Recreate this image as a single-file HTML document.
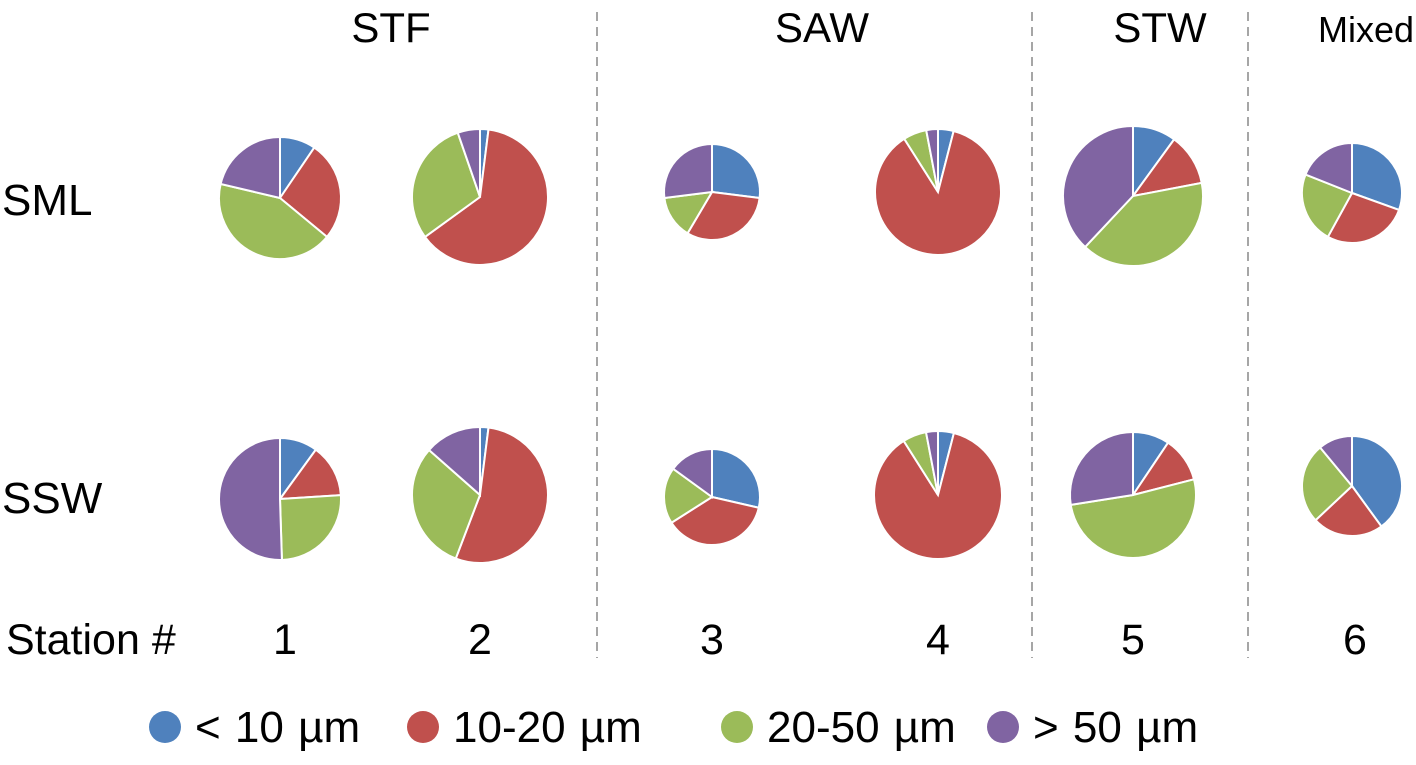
<!DOCTYPE html>
<html><head><meta charset="utf-8"><style>
body{margin:0;background:#fff;width:1416px;height:760px;overflow:hidden}
svg text{font-family:"Liberation Sans",Arial,sans-serif;fill:#000}
</style></head><body>
<svg id="chart" width="1416" height="760">
<g>
<text x="391" y="42" font-size="42" text-anchor="middle">STF</text>
<text x="822" y="42" font-size="42" text-anchor="middle">SAW</text>
<text x="1160" y="42" font-size="42" text-anchor="middle">STW</text>
<text x="1318" y="42" font-size="36">Mixed</text>
</g>
<text x="2" y="215" font-size="44">SML</text>
<text x="2" y="513" font-size="44">SSW</text>
<text x="6" y="654" font-size="43">Station #</text>
<g stroke="#a6a6a6" stroke-width="2" stroke-dasharray="9,6">
<line x1="597" y1="12" x2="597" y2="658"/>
<line x1="1032" y1="12" x2="1032" y2="658"/>
<line x1="1248" y1="12" x2="1248" y2="658"/>
</g>
<g id="pies"></g>
<g id="stations"></g>
<g style="word-spacing:2px">
<circle cx="165" cy="727" r="16" fill="#4F81BD"/>
<text x="195" y="742" font-size="44">&lt; 10 µm</text>
<circle cx="423" cy="727" r="16" fill="#C0504D"/>
<text x="453" y="742" font-size="44">10-20 µm</text>
<circle cx="737" cy="727" r="16" fill="#9BBB59"/>
<text x="767" y="742" font-size="44">20-50 µm</text>
<circle cx="1003" cy="727" r="16" fill="#8064A2"/>
<text x="1033" y="742" font-size="44">&gt; 50 µm</text>
</g>
</svg>
<script>
const stations = ["1","2","3","4","5","6"];
const sizeClasses = ["< 10 µm","10-20 µm","20-50 µm","> 50 µm"];
const smlValues = [[9.5,26.5,42.7,21.3],[2,63,29.7,5.3],[27,31.5,14.5,27],[4,87,6,3],[10,12,40,38],[30.5,27.5,23,19]];
const sswValues = [[10,14,25.5,50.5],[2,53.8,30.7,13.5],[28.6,37.4,19,15],[4,87,6,3],[9.4,11.6,51.5,27.5],[40,23,26,11]];
const colors = ["#4F81BD","#C0504D","#9BBB59","#8064A2"];
// layout
const cxs=[280,480,712,938,1133,1352];
const rowY1=[198,197,192,192,196,193];
const rowY2=[499,495,497,495,495,486];
const radSml=[61,68,48,63,70,50];
const radSsw=[61,68,48,64,63,50];
const NS="http://www.w3.org/2000/svg";
const pies=document.getElementById('pies');
function pt(cx,cy,r,a){return [cx+r*Math.sin(a),cy-r*Math.cos(a)];}
function drawPie(vals,cx,cy,r,rowName,idx){
  const tot=vals.reduce((a,b)=>a+b,0);let a0=0;
  const g=document.createElementNS(NS,'g');
  
  
  vals.forEach((v,k)=>{
    const a1=a0+v/tot*2*Math.PI;
    const p0=pt(cx,cy,r,a0),p1=pt(cx,cy,r,a1);
    const large=(a1-a0)>Math.PI?1:0;
    const p=document.createElementNS(NS,'path');
    p.setAttribute('d',`M${cx},${cy}L${p0[0]},${p0[1]}A${r},${r} 0 ${large} 1 ${p1[0]},${p1[1]}Z`);
    p.setAttribute('fill',colors[k]);p.setAttribute('stroke','#fff');p.setAttribute('stroke-width','2');
    
    
    g.appendChild(p);a0=a1;
  });
  pies.appendChild(g);
}
smlValues.forEach((v,i)=>drawPie(v,cxs[i],rowY1[i],radSml[i],'sml',i));
sswValues.forEach((v,i)=>drawPie(v,cxs[i],rowY2[i],radSsw[i],'ssw',i));
const st=document.getElementById('stations');
stations.forEach((s,i)=>{
  const t=document.createElementNS(NS,'text');
  t.setAttribute('x',cxs[i]+(i==0?5:(i==5?3:0)));t.setAttribute('y',654);t.setAttribute('font-size','43');
  t.setAttribute('text-anchor','middle');t.textContent=s;
  
  
  st.appendChild(t);
});
</script>
</body></html>
